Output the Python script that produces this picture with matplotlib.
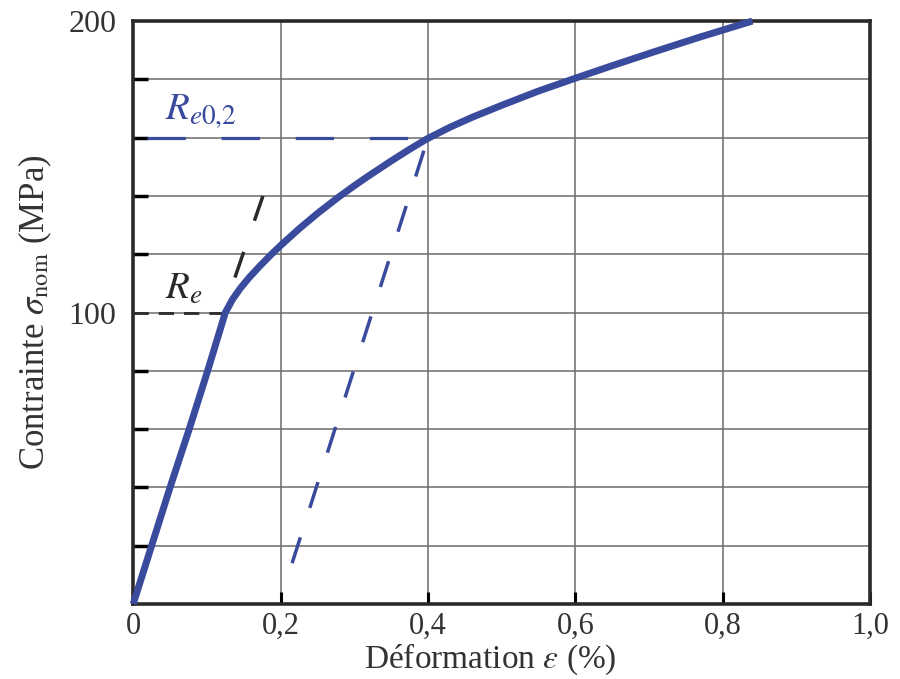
import matplotlib
matplotlib.use("Agg")
import matplotlib.pyplot as plt

plt.rcParams['font.family'] = ['Liberation Serif', 'DejaVu Serif']
plt.rcParams['mathtext.fontset'] = 'stix'

# Stress-strain curve (strain %, stress MPa)
strain = [0.0, 0.025, 0.05, 0.076, 0.101, 0.125, 0.135, 0.145, 0.157, 0.172, 0.186,
          0.20, 0.225, 0.25, 0.277, 0.30, 0.316, 0.35, 0.375, 0.398, 0.43, 0.46, 0.50,
          0.55, 0.60, 0.65, 0.705, 0.77, 0.84]
stress = [0.0, 20, 40, 60, 80, 100, 104.6, 108.2, 111.9, 116.0, 119.6,
          123.0, 128.7, 134.0, 139.3, 143.5, 146.3, 152.0, 156.0, 159.5, 163.6, 167.0, 171.1,
          176.0, 180.4, 184.7, 189.3, 194.6, 200]

# Construction lines
re_line_strain = [0.0, 0.125]
re_line_stress = [100, 100]
elastic_ext_strain = [0.138, 0.176]
elastic_ext_stress = [112, 140]
re02_line_strain = [0.019, 0.40]
re02_line_stress = [160, 160]
offset_line_strain = [0.2156, 0.40]
offset_line_stress = [14, 160]

xticks = [0, 0.2, 0.4, 0.6, 0.8, 1.0]
xticklabels = ['0', '0,2', '0,4', '0,6', '0,8', '1,0']
yticks_major = [100, 200]
yticks_minor = [20, 40, 60, 80, 120, 140, 160, 180]

blue = '#3a4b9e'
dark = '#2a2a2a'
gridc = '#6a6a6a'

fig = plt.figure(figsize=(9, 6.79), dpi=100)
ax = fig.add_axes([0.148, 0.1105, 0.819, 0.8585])
ax.set_xlim(0, 1.0)
ax.set_ylim(0, 200)

for gx in xticks[1:-1]:
    ax.axvline(gx, color=gridc, lw=1.1, zorder=1)
for gy in yticks_minor + [100]:
    ax.axhline(gy, color=gridc, lw=1.1, zorder=1)

ax.plot(re_line_strain, re_line_stress, color=dark, lw=2, linestyle=(0, (5.5, 3.6)), zorder=2)
ax.plot(elastic_ext_strain, elastic_ext_stress, color=dark, lw=2.5, linestyle=(0, (7.8, 9.5)), zorder=2)
ax.plot(re02_line_strain, re02_line_stress, color=blue, lw=2.3, linestyle=(0, (12.0, 11.2)), zorder=2)
ax.plot(offset_line_strain, offset_line_stress, color=blue, lw=2.5, linestyle=(0, (7.8, 8.9)), zorder=2)

ax.plot(strain, stress, color=blue, lw=5, solid_capstyle='butt', solid_joinstyle='round',
        zorder=3, clip_on=False)

ax.text(0.043, 166.5, r'$R_{e\mathrm{0{,}2}}$', color=blue, fontsize=28, ha='left', va='baseline')
ax.text(0.043, 104.5, r'$R_e$', color=dark, fontsize=28, ha='left', va='baseline')

ax.set_xticks(xticks)
ax.set_xticklabels(xticklabels)
ax.set_yticks(yticks_major)
ax.set_yticks(yticks_minor, minor=True)
ax.tick_params(axis='x', direction='in', length=9, width=2.2, labelsize=22, pad=6,
               labelcolor='#333333')
ax.tick_params(axis='y', which='major', direction='in', length=0, labelsize=23, pad=12,
               labelcolor='#333333')
ax.tick_params(axis='y', which='minor', direction='in', length=11, width=2.5)
ax.tick_params(top=False, right=False)

for s in ax.spines.values():
    s.set_linewidth(2.6)
    s.set_color(dark)

ax.set_xlabel(r'Déformation $\varepsilon$ (%)', fontsize=24, color='#333333')
ax.xaxis.set_label_coords(0.484, -0.064)
ax.set_ylabel(r'Contrainte $\sigma_{\rm nom}$ (MPa)', fontsize=25, color='#333333')
ax.yaxis.set_label_coords(-0.108, 0.5)

fig.savefig('out.png', dpi=100)
